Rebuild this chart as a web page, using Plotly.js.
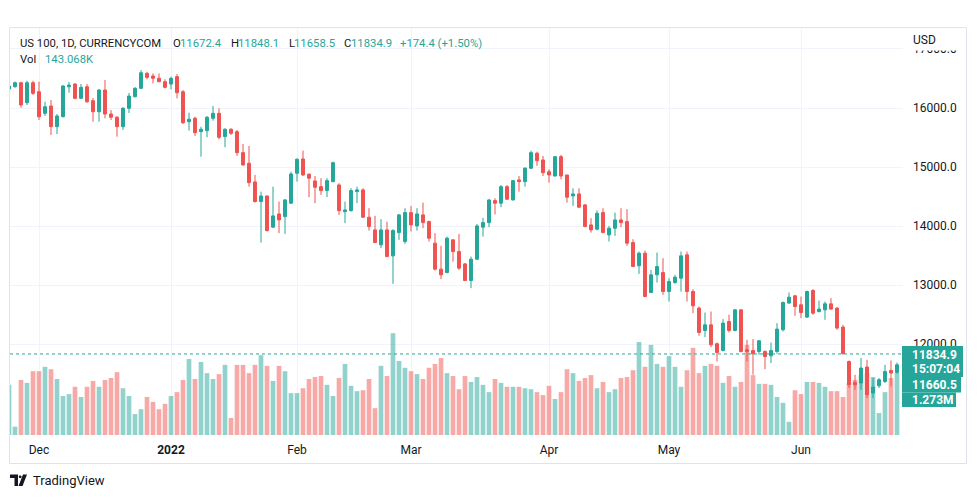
<!DOCTYPE html>
<html>
<head>
<meta charset="utf-8">
<script src="https://cdn.plot.ly/plotly-3.0.1.min.js"></script>
<style>
  html, body { margin: 0; padding: 0; background: #ffffff; }
  #chart { width: 979px; height: 498px; }
</style>
</head>
<body>
<div id="chart"></div>
<script>
// ---------------- DATA ----------------
const openPrices = [
16321,16360,16428,16090,16428,16276,15910,16034,15684,15853,
16360,16406,16164,16360,16124,15937,16305,15898,15843,15684,
15995,16191,16333,16587,16541,16503,16445,16406,16531,16276,
15768,15826,15599,15616,15826,15910,15516,15640,15599,15244,
15064,14748,14415,14511,13982,14206,14161,14388,14895,15137,
14878,14765,14668,14601,14753,14697,14245,14262,14584,14613,
14151,13936,13682,13936,13496,13890,13738,14229,14003,14190,
14076,13711,13271,13213,13767,13569,13360,13078,13440,13982,
14059,14432,14388,14668,14443,14782,14753,14980,15234,15120,
14922,14849,15176,14866,14511,14545,14359,14020,13948,14229,
13851,13964,14105,14076,13721,13327,13541,12875,13174,13213,
12892,13044,13118,13513,12892,12611,12232,12328,12007,11893,
12384,12232,12582,11905,11893,11877,11877,11804,11877,12244,
12696,12819,12667,12459,12909,12553,12582,12684,12611,12289,
11707,11352,11342,11613,11173,11296,11369,11555,11521
];
const highPrices = [
16389,16448,16445,16462,16462,16445,16107,16135,15898,16389,
16440,16423,16406,16406,16169,16321,16474,15966,15865,16017,
16254,16355,16643,16614,16587,16587,16486,16531,16575,16305,
15920,15853,15684,15865,16034,15995,15657,15657,15628,15391,
15357,14866,14584,14511,14668,14415,14460,14922,15149,15278,
14895,14849,14811,14811,15091,14726,14415,14641,14668,14641,
14303,14173,14117,14076,13948,14206,14303,14342,14303,14398,
14093,13880,13665,13822,13778,13868,13377,13484,14037,14139,
14460,14472,14697,14697,14782,14849,14997,15278,15261,15188,
14963,15188,15205,14866,14641,14641,14376,14134,14266,14303,
14003,14229,14303,14286,13778,13569,13586,13259,13552,13457,
13118,13174,13569,13569,12932,12638,12536,12553,12029,12425,
12498,12591,12594,12075,12087,12063,11893,12029,12357,12723,
12875,12836,12807,12909,12932,12739,12723,12780,12628,12328,
11724,11482,11765,11736,11427,11427,11652,11724,11690
];
const lowPrices = [
16305,16347,16005,16051,16220,15797,15865,15543,15560,15840,
16259,16147,16152,16085,15768,15768,15826,15797,15514,15628,
15915,16180,16321,16486,16418,16440,16333,16316,16164,15729,
15618,15526,15176,15504,15785,15470,15335,15543,15188,15019,
14668,14398,13721,13907,13965,13880,13868,14376,14753,14849,
14489,14388,14528,14489,14743,14190,14049,14245,14388,14139,
13924,13711,13626,13474,13022,13767,13699,13907,13924,13965,
13738,13247,13102,13200,13399,13259,13073,12949,13428,13822,
13982,14198,14320,14443,14435,14584,14668,14968,15019,14849,
14736,14838,14794,14398,14342,14303,13982,13890,13927,13880,
13738,13834,13982,13665,13305,13191,12797,12865,13044,12836,
12723,13022,12892,12723,12526,12142,12120,11951,11707,11877,
12198,12218,11860,11707,11482,11821,11579,11680,11838,12215,
12684,12481,12442,12442,12498,12536,12413,12582,12244,11829,
11257,11229,11229,11088,11088,11257,11342,11284,11499
];
const closePrices = [
16372,16428,16051,16428,16249,15853,16022,15684,15865,16372,
16389,16164,16350,16107,15937,16305,15898,15843,15684,15995,
16203,16333,16597,16519,16503,16445,16350,16503,16259,15751,
15809,15582,15640,15843,15910,15504,15640,15572,15244,15036,
14736,14415,14511,13924,14173,14105,14443,14883,15132,14866,
14811,14658,14601,14770,15074,14262,14274,14601,14613,14151,
13992,13721,13936,13484,13924,14190,14229,14020,14206,14059,
13795,13271,13174,13795,13569,13288,13078,13440,14003,14059,
14443,14388,14668,14455,14770,14753,14980,15244,15108,14905,
14866,15176,14849,14489,14545,14320,13992,13936,14218,13890,
13964,14105,14059,13711,13315,13541,12807,13174,13315,12892,
13061,13135,13496,12892,12650,12198,12328,11990,11860,12357,
12232,12582,11877,11877,11838,12058,11792,11893,12256,12706,
12797,12638,12536,12892,12526,12594,12684,12594,12273,11838,
11313,11313,11596,11144,11274,11398,11538,11511,11652
];
// volume in millions
const volumeM = [
1.03,0.17,1.13,1.07,1.31,1.31,1.40,1.35,1.15,0.80,
0.84,0.99,0.78,0.99,1.11,0.99,1.13,1.17,1.29,0.96,
0.80,0.43,0.53,0.78,0.68,0.53,0.64,0.80,0.88,1.13,
1.56,1.15,1.50,1.27,1.15,1.25,1.44,0.35,1.44,1.44,
1.27,1.44,1.64,1.42,1.11,1.42,1.31,0.86,0.86,0.96,
1.15,1.19,1.21,1.03,0.80,1.17,1.46,1.01,0.90,0.92,
1.15,0.55,1.42,1.21,2.09,1.52,1.38,1.31,1.25,1.15,
1.38,1.46,1.58,1.27,1.21,0.94,1.21,1.09,1.19,1.03,
0.88,1.15,1.07,0.99,0.99,0.99,0.96,0.94,0.88,0.82,
1.01,0.74,0.88,1.35,1.27,1.11,1.17,1.23,0.96,1.09,
0.88,0.94,1.17,1.19,1.33,1.91,1.40,1.85,1.46,1.40,
1.62,1.40,0.99,1.33,1.79,1.27,1.42,1.46,1.42,1.07,
1.21,0.99,1.09,1.85,1.23,1.05,1.05,1.03,0.78,0.66,
0.27,0.92,0.84,1.09,1.09,1.07,0.99,0.90,0.90,0.78,
1.07,1.13,1.23,1.27,1.19,0.45,0.88,1.17,1.273
];
const monthTickIndex = [5, 27, 48, 67, 90, 110, 132];
const monthTickLabels = ["Dec", "<b>2022</b>", "Feb", "Mar", "Apr", "May", "Jun"];
const priceTicks = [12000, 13000, 14000, 15000, 16000, 17000];
const lastPrice = 11834.9;
const headerTitle = "US 100, 1D, CURRENCYCOM";
const headerO = "11672.4", headerH = "11848.1", headerL = "11658.5", headerC = "11834.9";
const headerChange = "+174.4 (+1.50%)";
const headerVol = "143.068K";
const labelLast = "11834.9", labelCountdown = "15:07:04", labelSecond = "11660.5", labelVolume = "1.273M";

// ---------------- STYLE / LAYOUT ----------------
const UP = '#26a69a', DOWN = '#ef5350', TXT = '#131722', GRID = '#f0f3fa';
const FONT = 'Roboto, "Open Sans", sans-serif';
const L = 10, R = 903, T = 28, B = 435;
const px = x => (x - L) / (R - L);
const py = y => (B - y) / (B - T);

const idx = openPrices.map((_, i) => i);
const volColors = idx.map(i => closePrices[i] >= openPrices[i] ? 'rgba(38,166,154,0.5)' : 'rgba(239,83,80,0.5)');

const volTrace = {
  type: 'bar', x: idx, y: volumeM, yaxis: 'y2', xaxis: 'x',
  marker: { color: volColors, line: { width: 0 } }, width: 0.78,
  hoverinfo: 'skip', showlegend: false
};
const candleTrace = {
  type: 'candlestick', x: idx,
  open: openPrices, high: highPrices, low: lowPrices, close: closePrices,
  increasing: { line: { color: UP, width: 1 }, fillcolor: UP },
  decreasing: { line: { color: DOWN, width: 1 }, fillcolor: DOWN },
  whiskerwidth: 0, hoverinfo: 'skip', showlegend: false
};

const shapes = [
  // outer frame
  { type: 'rect', xref: 'paper', yref: 'paper', x0: px(9.5), x1: px(966.5), y0: py(27.5), y1: py(463.5),
    line: { color: '#e0e3eb', width: 1 }, fillcolor: 'rgba(0,0,0,0)', layer: 'above' },
  // last price dotted line
  { type: 'line', xref: 'paper', yref: 'y', x0: 0, x1: 1, y0: lastPrice, y1: lastPrice,
    line: { color: UP, width: 1, dash: 'dot' }, layer: 'above' },
  // cover most of the top tick label (behind "USD")
  { type: 'rect', xref: 'paper', yref: 'paper', x0: px(904), x1: px(966), y0: py(50.5), y1: py(28.5),
    line: { width: 0 }, fillcolor: '#ffffff', layer: 'above' },
  // price label boxes
  { type: 'rect', xref: 'paper', yref: 'paper', x0: px(902), x1: px(963), y0: py(377), y1: py(346),
    line: { width: 0 }, fillcolor: UP, layer: 'above' },
  { type: 'rect', xref: 'paper', yref: 'paper', x0: px(902), x1: px(961), y0: py(392.5), y1: py(377),
    line: { width: 0 }, fillcolor: UP, layer: 'above' },
  { type: 'rect', xref: 'paper', yref: 'paper', x0: px(902), x1: px(956), y0: py(407), y1: py(392.5),
    line: { width: 0 }, fillcolor: UP, layer: 'above' },
  // TradingView logo (approximation)
  { type: 'path', xref: 'paper', yref: 'paper',
    path: `M ${px(10)} ${py(474.5)} L ${px(18)} ${py(474.5)} L ${px(18)} ${py(486)} L ${px(14.5)} ${py(486)} L ${px(14.5)} ${py(478)} L ${px(10)} ${py(478)} Z`,
    fillcolor: TXT, line: { width: 0 }, layer: 'above' },
  { type: 'circle', xref: 'paper', yref: 'paper', x0: px(18.8), x1: px(21.6), y0: py(478.2), y1: py(475.4),
    fillcolor: TXT, line: { width: 0 }, layer: 'above' },
  { type: 'path', xref: 'paper', yref: 'paper',
    path: `M ${px(23)} ${py(474.5)} L ${px(27)} ${py(474.5)} L ${px(22.5)} ${py(486)} L ${px(18.5)} ${py(486)} Z`,
    fillcolor: TXT, line: { width: 0 }, layer: 'above' }
];

function ann(text, x, y, opts) {
  return Object.assign({
    text: text, xref: 'paper', yref: 'paper', x: px(x), y: py(y),
    xanchor: 'left', yanchor: 'middle', showarrow: false,
    font: { family: FONT, size: 12, color: TXT }
  }, opts || {});
}
const HS = 11.3;
const hdrFont = { family: FONT, size: HS, color: TXT };
const tealFont = { family: FONT, size: HS, color: UP };
const whiteBold = { family: FONT, size: 12, color: '#ffffff', weight: 'bold' };

const annotations = [
  ann(headerTitle, 18, 43, { font: hdrFont }),
  ann('O', 171, 43, { font: hdrFont }), ann(headerO, 178, 43, { font: tealFont }),
  ann('H', 229, 43, { font: hdrFont }), ann(headerH, 235.5, 43, { font: tealFont }),
  ann('L', 286.5, 43, { font: hdrFont }), ann(headerL, 292, 43, { font: tealFont }),
  ann('C', 342, 43, { font: hdrFont }), ann(headerC, 348.5, 43, { font: tealFont }),
  ann(headerChange, 398, 43, { font: tealFont }),
  ann('Vol', 18, 59.5, { font: hdrFont }), ann(headerVol, 42.5, 59.5, { font: tealFont }),
  ann('USD', 911, 40),
  ann('<b>' + labelLast + '</b>', 910, 354.5, { font: whiteBold }),
  ann('<b>' + labelCountdown + '</b>', 910, 369, { font: whiteBold }),
  ann('<b>' + labelSecond + '</b>', 910, 385, { font: whiteBold }),
  ann('<b>' + labelVolume + '</b>', 910, 400, { font: whiteBold }),
  ann('TradingView', 31, 480.5, { font: { family: FONT, size: 13, color: TXT } })
];

const layout = {
  width: 979, height: 498,
  margin: { l: L, r: 979 - R, t: T, b: 498 - B, pad: 0 },
  paper_bgcolor: '#ffffff', plot_bgcolor: '#ffffff',
  showlegend: false, dragmode: false,
  boxgap: 0.3,
  xaxis: {
    range: [1 / 6, 149], tickmode: 'array', tickvals: monthTickIndex, ticktext: monthTickLabels,
    showgrid: true, gridcolor: GRID, gridwidth: 1, zeroline: false, showline: false,
    ticks: '', ticklabelstandoff: 6,
    tickfont: { family: FONT, size: 12, color: TXT },
    rangeslider: { visible: false }, fixedrange: true
  },
  yaxis: {
    side: 'right', range: [10462, 17355],
    tickmode: 'array', tickvals: priceTicks, ticktext: priceTicks.map(v => v.toFixed(1)),
    showgrid: true, gridcolor: GRID, gridwidth: 1, zeroline: false, showline: false,
    ticks: '', ticklabelstandoff: 9,
    tickfont: { family: FONT, size: 12, color: TXT }, fixedrange: true
  },
  yaxis2: {
    overlaying: 'y', range: [0, 8.356], visible: false, fixedrange: true
  },
  shapes: shapes,
  annotations: annotations
};

Plotly.newPlot('chart', [volTrace, candleTrace], layout, { staticPlot: true, displayModeBar: false });
</script>
</body>
</html>
